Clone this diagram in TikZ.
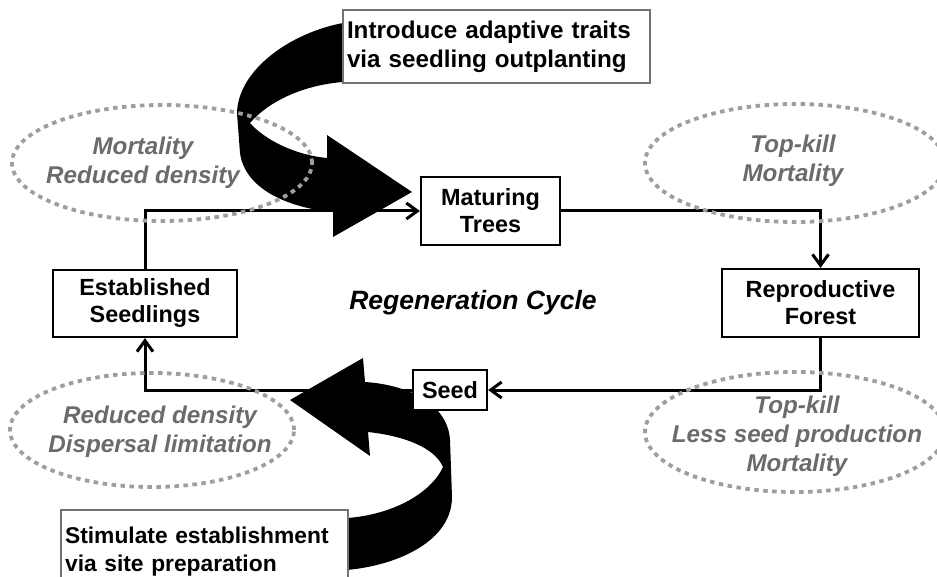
\documentclass[tikz,border=0pt]{standalone}
\usepackage{fontspec}
\setmainfont{Liberation Sans}
\usetikzlibrary{arrows.meta}
\begin{document}
\begin{tikzpicture}[x=1pt, y=-1pt,
    stagebox/.style={draw, line width=2.2pt, fill=white, align=center, inner sep=0pt, font=\fontsize{23.4}{27}\selectfont\bfseries},
    actbox/.style={draw=black!55, line width=2.2pt, fill=white, align=left, inner xsep=4pt, inner ysep=0pt, font=\fontsize{24.2}{29}\selectfont\bfseries},
    impact/.style={text=black!58, align=center, inner sep=0pt, font=\fontsize{24.2}{29}\selectfont\bfseries\itshape},
    halo/.style={draw=black!38, line width=3.8pt, dash pattern=on 4.5pt off 4.5pt},
    flow/.style={line width=3pt, -{Straight Barb[length=11pt,width=16pt]}}]
    \useasboundingbox (0,0) rectangle (937,577);
    \clip (0,0) rectangle (937,577);
    \fill (343,23) .. controls (290,33) and (238,70) .. (237,113) -- (240,153) .. controls (245,190) and (290,208) .. (333,212) -- (333,237) -- (412,192) -- (327,135) -- (327,158) .. controls (295,155) and (265,140) .. (250,123) .. controls (270,100) and (305,85) .. (343,82) -- cycle;
    \fill (290,400) -- (363,358) -- (365,382) .. controls (410,385) and (448,405) .. (450,440) -- (452,497) .. controls (452,540) and (400,565) .. (347,570) -- (347,518) .. controls (390,515) and (430,495) .. (443,467) .. controls (435,448) and (405,436) .. (368,432) -- (370,456) -- cycle;
    \node[stagebox, minimum width=139pt, minimum height=68pt] (mature) at (490.5,211) {Maturing\\Trees};
    \node[stagebox, minimum width=184pt, minimum height=67pt] (estab) at (145,303.5) {Established\\Seedlings};
    \node[stagebox, minimum width=197pt, minimum height=68pt] (repro) at (820.5,303) {Reproductive\\Forest};
    \node[stagebox, minimum width=74pt, minimum height=40pt] (seed) at (450,390) {Seed};
    \draw[flow] (estab.north) |- (mature.west);
    \draw[flow] (mature.east) -| (repro.north);
    \draw[flow] (repro.south) |- (seed.east);
    \draw[flow] (seed.west) -| (estab.south);
    \node[actbox, text width=299pt, minimum height=73pt] (outplant) at (496.5,46.5) {Introduce adaptive traits\\via seedling outplanting};
    \node[actbox, text width=279pt, minimum height=84pt, anchor=north west, font=\fontsize{22.8}{28}\selectfont\bfseries] (siteprep) at (60,509) {Stimulate establishment\\via site preparation};
    \node[font=\fontsize{26.5}{30}\selectfont\bfseries\itshape] (cycle) at (473,303) {Regeneration Cycle};
    \draw[halo] (162,163) ellipse [x radius=150pt, y radius=58pt];
    \draw[halo] (795,163) ellipse [x radius=150pt, y radius=59pt];
    \draw[halo] (795,432) ellipse [x radius=150pt, y radius=60pt];
    \draw[halo] (152,430) ellipse [x radius=142pt, y radius=57pt];
    \node[impact] (lossTL) at (143,162.5) {Mortality\\Reduced density};
    \node[impact] (lossTR) at (793,160.5) {Top-kill\\Mortality};
    \node[impact] (lossBR) at (797,436.5) {Top-kill\\Less seed production\\Mortality};
    \node[impact] (lossBL) at (160,431.5) {Reduced density\\Dispersal limitation};
\end{tikzpicture}
\end{document}
